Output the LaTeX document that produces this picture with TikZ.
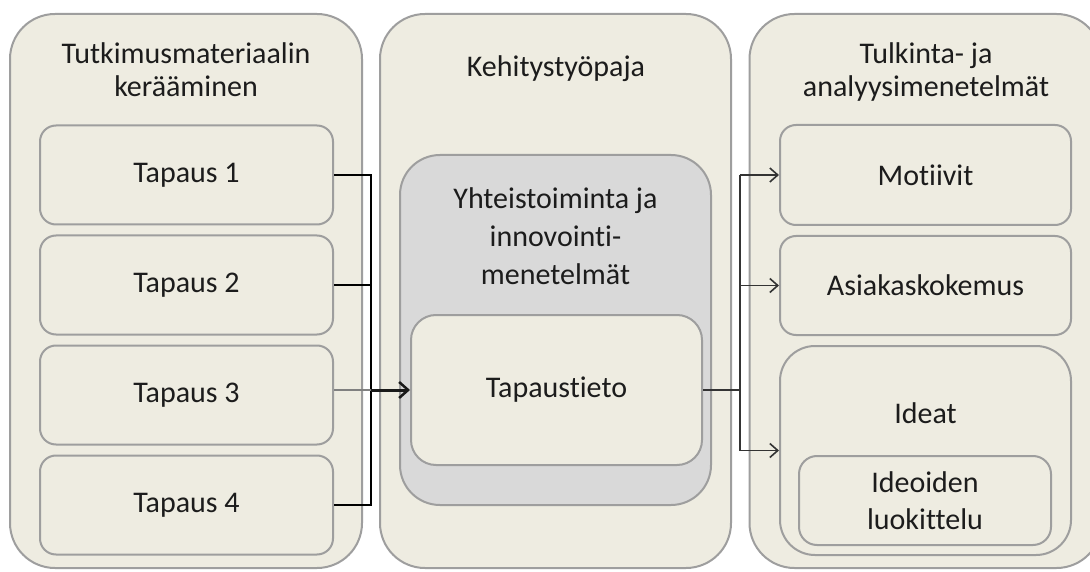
\documentclass[tikz,border=0pt]{standalone}
\usepackage{fontspec}
\setmainfont{Carlito}[Ligatures={NoCommon}]
\usetikzlibrary{arrows.meta}
\definecolor{beige}{HTML}{EEECE1}
\definecolor{bordergray}{HTML}{9E9E9E}
\definecolor{boxgray}{HTML}{D9D9D9}
\definecolor{txt}{HTML}{1C1C1C}
\tikzset{
  col/.style={draw=bordergray, line width=2pt, fill=beige, rounded corners=45pt, minimum width=352pt, minimum height=554pt, inner sep=0pt},
  item/.style={draw=bordergray, line width=2pt, fill=beige, rounded corners=16pt, minimum width=293pt, minimum height=99pt, inner sep=0pt, text=txt, font=\fontsize{30}{37}\selectfont, align=center},
  lbl/.style={text=txt, font=\fontsize{30}{33}\selectfont, align=center, inner sep=0pt},
  lbl2/.style={text=txt, font=\fontsize{30}{38}\selectfont, align=center, inner sep=0pt},
  conn/.style={draw=black, line width=2pt},
  rconn/.style={draw=black!80, line width=1.6pt},
}
\begin{document}
\begin{tikzpicture}[x=1pt,y=-1pt]
\useasboundingbox (0,0) rectangle (1090,572);
\fill[white] (0,0) rectangle (1090,572);
\clip (0,0) rectangle (1090,572);
% columns
\node[col] (L) at (186,291) {};
\node[col, minimum width=351pt] (M) at (555.5,291) {};
\node[col] (R) at (925.5,291) {};
\node[lbl] (Lt) at (186,70) {Tutkimusmateriaalin\\kerääminen};
\node[lbl, anchor=base] (Mt) at (556,77) {Kehitystyöpaja};
\node[lbl] (Rt) at (926,72) {Tulkinta- ja\\analyysimenetelmät};
% left items
\node[item] (t1) at (186.5,175) {Tapaus 1};
\node[item] (t2) at (186.5,285) {Tapaus 2};
\node[item] (t3) at (186.5,395) {Tapaus 3};
\node[item] (t4) at (186.5,505) {Tapaus 4};
% middle
\node[draw=bordergray, line width=2pt, fill=boxgray, rounded corners=40pt, minimum width=311pt, minimum height=350pt, inner sep=0pt] (G) at (555.5,330) {};
\node[lbl2] (Gt) at (555.5,236) {Yhteistoiminta ja\\innovointi-\\menetelmät};
\node[item, rounded corners=25pt, minimum width=291pt, minimum height=150pt] (ts) at (556.5,390) {\raisebox{-3pt}{Tapaustieto}};
% right
\node[item, minimum width=291pt, minimum height=100pt] (mo) at (925.5,175) {Motiivit};
\node[item, minimum width=291pt, minimum height=99pt] (ak) at (925.5,285.5) {Asiakaskokemus};
\node[item, rounded corners=35pt, minimum width=291pt, minimum height=209pt] (id) at (925.5,450.5) {};
\node[lbl] (idt) at (925.5,413) {Ideat};
\node[item, rounded corners=18pt, minimum width=252pt, minimum height=89pt] (il) at (925,500.5) {Ideoiden\\luokittelu};
% connectors left
\coordinate (bx) at (371,0);
\draw[conn] (t1.east) -| (t4.east -| bx) -- (t4.east);
\draw[conn] (t2.east) -- (t2.east -| bx);
\draw[draw=gray, line width=1.2pt] (t3.east |- ts) -- (ts -| bx);
\draw[draw=black!90, line width=3pt, -{Straight Barb[length=9pt,width=16pt,line width=2.5pt]}] (ts -| bx) -- (ts.west);
% connectors right
\coordinate (rx) at (740,0);
\draw[rconn] (ts.east) -- (ts.east -| rx);
\draw[rconn] (mo.west -| rx) -- (id.west -| rx);
\draw[rconn, -{Straight Barb[length=8pt,width=14pt]}] (mo.west -| rx) -- (mo.west);
\draw[rconn, -{Straight Barb[length=8pt,width=14pt]}] (ak.west -| rx) -- (ak.west);
\draw[rconn, -{Straight Barb[length=8pt,width=14pt]}] (id.west -| rx) -- (id.west);
\end{tikzpicture}
\end{document}
